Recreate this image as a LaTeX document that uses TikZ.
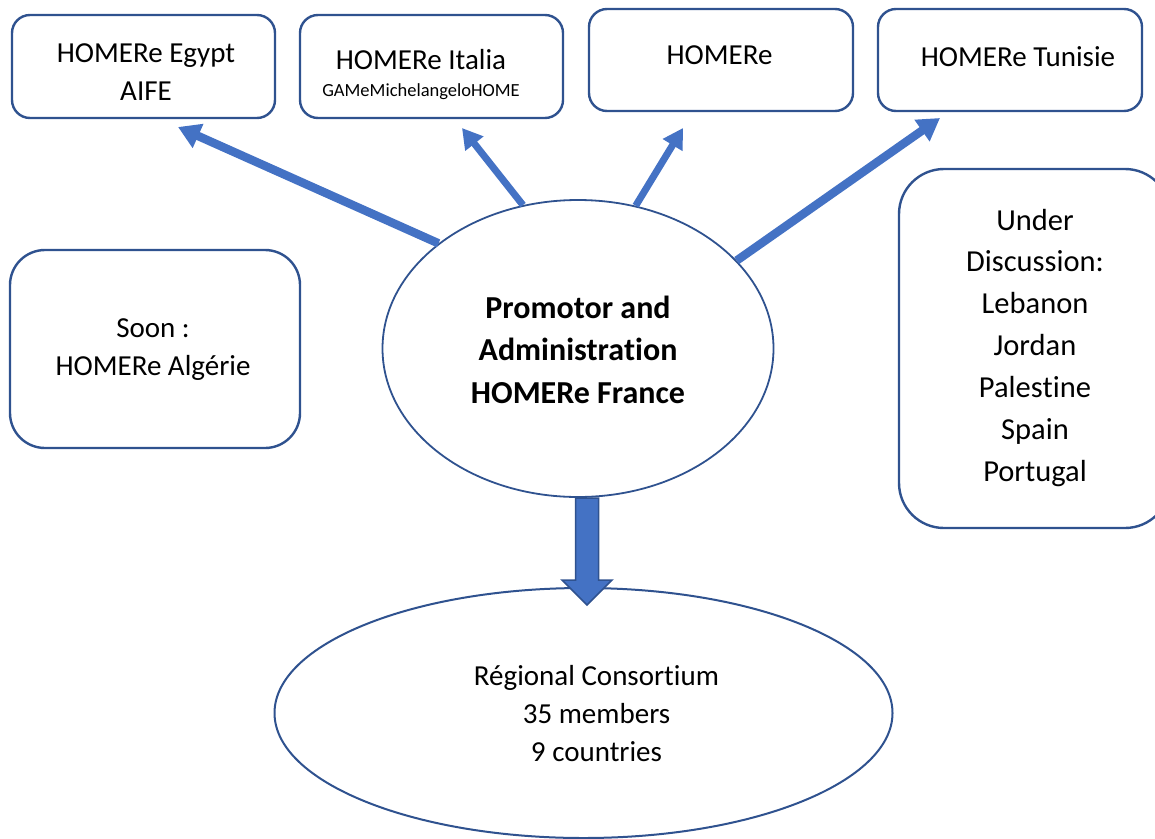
\documentclass[tikz,border=0pt]{standalone}
\usepackage{fontspec}
\setmainfont{Carlito}[Ligatures=NoCommon, RawFeature=-calt, RawFeature=-clig, RawFeature=-dlig]
\usetikzlibrary{arrows.meta,shapes.geometric}
\definecolor{bordblue}{HTML}{2F528F}
\definecolor{fillblue}{HTML}{4472C4}
\newcommand{\mlines}[1]{\begin{tabular}[t]{@{}c@{}}#1\end{tabular}}
\begin{document}
\begin{tikzpicture}[x=1pt,y=-1pt,
  box/.style={draw=bordblue, line width=2.4pt, inner sep=0pt},
  oval/.style={draw=bordblue, line width=2pt, ellipse, inner sep=0pt},
  txt/.style={inner sep=0pt, anchor=base, font=\fontsize{29}{38}\selectfont},
  conn/.style={draw=fillblue, line width=8.5pt, -{Triangle[width=25pt,length=22pt]}},
  connthin/.style={draw=fillblue, line width=7pt, -{Triangle[width=22pt,length=20pt]}},
  blockarrow/.style={draw=bordblue, fill=fillblue, line width=1.5pt, line join=miter},
]
\clip (0,0) rectangle (1155,838);
\useasboundingbox (0,0) rectangle (1155,838);

% top boxes
\node[box, rounded corners=18pt, minimum width=263pt, minimum height=103pt] (egypt) at (143.5,66.5) {};
\node[box, rounded corners=18pt, minimum width=263pt, minimum height=103pt] (italia) at (431.5,66.5) {};
\node[box, rounded corners=18pt, minimum width=264pt, minimum height=102pt] (homere) at (721,60) {};
\node[box, rounded corners=18pt, minimum width=264pt, minimum height=102pt] (tunisie) at (1010,60) {};

\node[txt] (egypttxt) at (146,62.7) {\mlines{HOMERe Egypt\\AIFE}};
\node[txt] (italiatxt) at (421,69) {HOMERe Italia};
\node[txt, font=\fontsize{18.5}{22}\selectfont] (gametxt) at (421,96.7) {GAMeMichelangeloHOME};
\node[txt] (homeretxt) at (719.5,64) {HOMERe};
\node[txt] (tunisietxt) at (1018,66.7) {HOMERe Tunisie};

% side boxes
\node[box, rounded corners=35pt, minimum width=290pt, minimum height=198pt] (soon) at (155,349) {};
\node[txt] (soontxt) at (153,337) {\mlines{Soon :\\HOMERe Algérie}};

\node[box, rounded corners=45pt, minimum width=271pt, minimum height=359pt] (under) at (1034.5,348.5) {};
\node[txt, font=\fontsize{30.5}{41.9}\selectfont] (undertxt) at (1035,230) {\mlines{Under\\Discussion:\\Lebanon\\Jordan\\Pales\kern0pt tine\\Spain\\Portugal}};

% bottom ellipse and block arrow
\node[oval, minimum width=618pt, minimum height=250pt] (consortium) at (583.5,713) {};
\node[txt] (constxt) at (596.5,685) {\mlines{Régional Consor\kern0pt tium\\35 members\\9 countries}};

\coordinate (downtip) at (587,605);
\draw[blockarrow] (575.5,498) -- (598.5,498) -- (598.5,580) -- (612,580) -- (downtip) -- (562,580) -- (575.5,580) -- cycle;

% main ellipse
\node[oval, line width=1.8pt, minimum width=391pt, minimum height=297pt] (main) at (578,348.5) {};
\node[txt, font=\fontsize{32}{42.5}\selectfont\bfseries] (maintxt) at (578,318.3) {\mlines{Promotor and\\Administra\kern0pt tion\\HOMERe France}};

% connectors
\coordinate (tipegypt) at (178,127);
\coordinate (tipitalia) at (462,128);
\coordinate (tiphomere) at (683,128);
\coordinate (tiptunisie) at (940,118);
\draw[conn] (main.143) -- (tipegypt);
\draw[connthin] (main.111) -- (tipitalia);
\draw[connthin] (main.68) -- (tiphomere);
\draw[conn] (main.29) -- (tiptunisie);
\end{tikzpicture}
\end{document}
